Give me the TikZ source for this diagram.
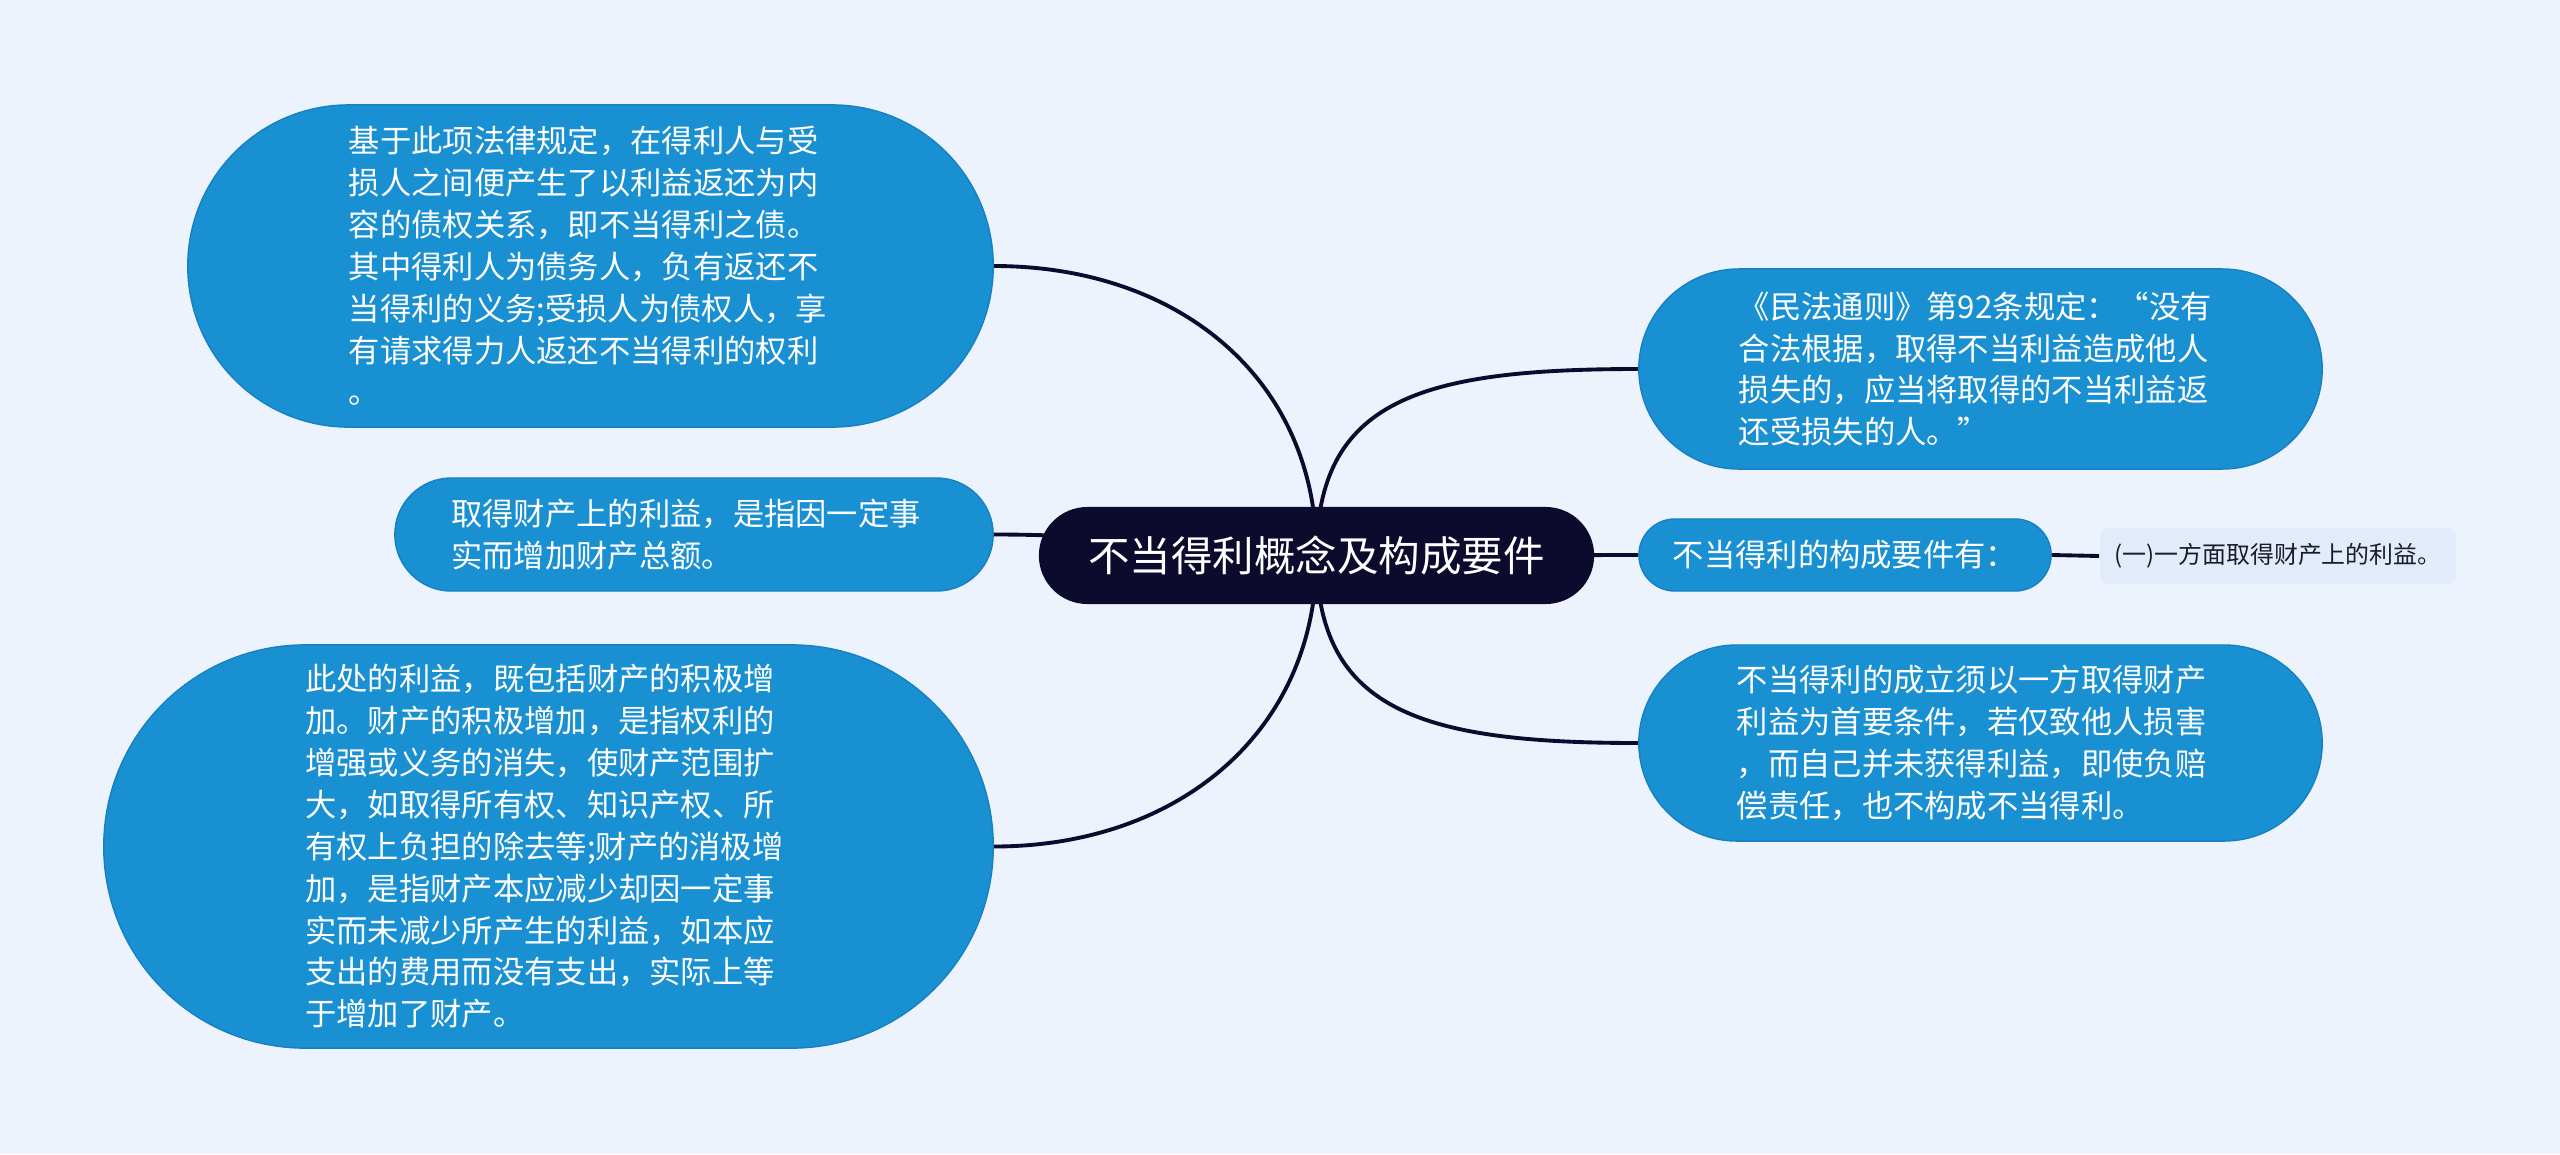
\documentclass[tikz,border=0pt]{standalone}
\usepackage{fontspec}
\setmainfont{Noto Sans CJK SC}
\usetikzlibrary{shapes.misc}
\definecolor{canvas}{HTML}{EDF3FD}
\definecolor{topic}{HTML}{0C0A2D}
\definecolor{branch}{HTML}{1990D2}
\definecolor{branchline}{HTML}{1780C2}
\definecolor{leaf}{HTML}{E1EBFA}
\definecolor{ink}{HTML}{1B1B2B}
\pgfdeclarelayer{backdrop}
\pgfdeclarelayer{links}
\pgfsetlayers{backdrop,links,main}

\begin{document}
\begin{tikzpicture}[x=0.01cm, y=-0.01cm,
  topicbox/.style={shape=rounded rectangle, fill=topic, text=white, inner sep=0pt, font=\fontsize{11.8pt}{14pt}\selectfont},
  box/.style={shape=rounded rectangle, fill=branch, draw=branchline, line width=0.4pt, text=white, inner sep=0pt, align=left, font=\fontsize{8.9pt}{11.9pt}\selectfont},
  leafbox/.style={fill=leaf, rounded corners=0.08cm, text=ink, inner sep=0pt, font=\fontsize{6.8pt}{8pt}\selectfont},
  link/.style={draw=topic, line width=1.1pt},
]
  \useasboundingbox (0,0) rectangle (2560,1154);
  \begin{pgfonlayer}{backdrop}
    \fill[canvas] (0,0) rectangle (2560,1154);
  \end{pgfonlayer}

  \node[topicbox,minimum width=5.55cm,minimum height=0.97cm] (main) at (1316.5,555.5) {不当得利概念及构成要件};

  % left side
  \node[box,minimum width=8.05cm,minimum height=3.22cm,text width=4.83cm] (L1) at (590.5,266) {基于此项法律规定，在得利人与受\\损人之间便产生了以利益返还为内\\容的债权关系，即不当得利之债。\\其中得利人为债务人，负有返还不\\当得利的义务;受损人为债权人，享\\有请求得力人返还不当得利的权利\\。};
  \node[box,minimum width=5.98cm,minimum height=1.13cm,text width=4.85cm] (L2) at (694,534.5) {取得财产上的利益，是指因一定事\\实而增加财产总额。};
  \node[box,minimum width=8.89cm,minimum height=4.03cm,text width=4.86cm] (L3) at (548.5,846.5) {此处的利益，既包括财产的积极增\\加。财产的积极增加，是指权利的\\增强或义务的消失，使财产范围扩\\大，如取得所有权、知识产权、所\\有权上负担的除去等;财产的消极增\\加，是指财产本应减少却因一定事\\实而未减少所产生的利益，如本应\\支出的费用而没有支出，实际上等\\于增加了财产。};

  % right side
  \node[box,minimum width=6.83cm,minimum height=2.00cm,text width=4.83cm] (R1) at (1980.5,369) {《民法通则》第92条规定：“没有\\合法根据，取得不当利益造成他人\\损失的，应当将取得的不当利益返\\还受损失的人。”};
  \node[box,minimum width=4.12cm,minimum height=0.72cm,align=center] (R2) at (1845,555) {不当得利的构成要件有：};
  \node[box,minimum width=6.83cm,minimum height=1.96cm,text width=4.87cm] (R3) at (1980.5,743) {不当得利的成立须以一方取得财产\\利益为首要条件，若仅致他人损害\\，而自己并未获得利益，即使负赔\\偿责任，也不构成不当得利。};
  \node[leafbox,minimum width=3.56cm,minimum height=0.56cm] (S1) at (2278,556) {(一)一方面取得财产上的利益。};

  \begin{pgfonlayer}{links}
    \draw[link] (main.center) .. controls (1317,380) and (1180,266) .. (L1.east);
    \draw[link] (main.center) .. controls (1200,555) and (1150,534.5) .. (L2.east);
    \draw[link] (main.center) .. controls (1317,730) and (1180,846.5) .. (L3.east);
    \draw[link] (main.center) .. controls (1317,400) and (1420,369) .. (R1.west);
    \draw[link] (main.center) -- (R2.west);
    \draw[link] (main.center) .. controls (1317,710) and (1420,743) .. (R3.west);
    \draw[link] (R2.east) -- (S1.west);
  \end{pgfonlayer}
\end{tikzpicture}
\end{document}
